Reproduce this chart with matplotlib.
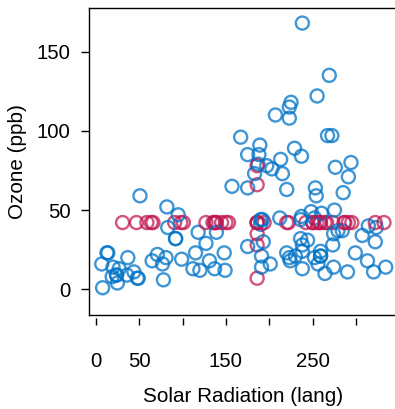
import numpy as np
import matplotlib
matplotlib.use("Agg")
import matplotlib.pyplot as plt

NA = np.nan
ozone = [41,36,12,18,NA,28,23,19,8,NA,
         7,16,11,14,18,14,34,6,30,11,
         1,11,4,32,NA,NA,NA,23,45,115,
         37,NA,NA,NA,NA,NA,NA,29,NA,71,
         39,NA,NA,23,NA,NA,21,37,20,12,
         13,NA,NA,NA,NA,NA,NA,NA,NA,NA,
         NA,135,49,32,NA,64,40,77,97,97,
         85,NA,10,27,NA,7,48,35,61,79,
         63,16,NA,NA,80,108,20,52,82,50,
         64,59,39,9,16,78,35,66,122,89,
         110,NA,NA,44,28,65,NA,22,59,23,
         31,44,21,9,NA,45,168,73,NA,76,
         118,84,85,96,78,73,91,47,32,20,
         23,21,24,44,21,28,9,13,46,18,
         13,24,16,13,23,36,7,14,30,NA,
         14,18,20]
solar = [190,118,149,313,NA,NA,299,99,19,194,
         NA,256,290,274,65,334,307,78,322,44,
         8,320,25,92,66,266,NA,13,252,223,
         279,286,287,242,186,220,264,127,273,291,
         323,259,250,148,332,322,191,284,37,120,
         137,150,59,91,250,135,127,47,98,31,
         138,269,248,236,101,175,314,276,267,272,
         175,139,264,175,291,48,260,274,285,187,
         220,7,258,295,294,223,81,82,213,275,
         253,254,83,24,77,NA,NA,NA,255,229,
         207,222,137,192,273,157,64,71,51,115,
         244,190,259,36,255,212,238,215,153,203,
         225,237,188,167,197,183,189,95,92,252,
         220,230,259,236,259,238,24,112,237,224,
         27,238,201,238,14,139,49,20,193,145,
         191,131,223]

x_ticks = [0, 50, 100, 150, 200, 250, 300]
x_ticklabels = ["0", "50", "", "150", "", "250", ""]
y_ticks = [0, 50, 100, 150]

oz = np.array(ozone, dtype=float)
sr = np.array(solar, dtype=float)
missing = np.isnan(oz) | np.isnan(sr)
oz_i = np.where(np.isnan(oz), np.nanmean(oz), oz)
sr_i = np.where(np.isnan(sr), np.nanmean(sr), sr)

blue = (0/255, 114/255, 198/255, 0.75)
red = (192/255, 20/255, 80/255, 0.72)
colors = [red if m else blue for m in missing]

plt.rcParams['font.family'] = ['Liberation Sans', 'DejaVu Sans']
fig = plt.figure(figsize=(3.95, 4.09), dpi=100)
ax = fig.add_axes([89/395, 94/409, 308/395, 307/409])

ax.scatter(sr_i, oz_i, s=88, facecolors='none', edgecolors=colors, linewidths=1.7)

ax.set_xlim(-7.7, 347)
ax.set_ylim(-16.2, 177.5)

ax.spines['right'].set_visible(False)
for s in ['left', 'top']:
    ax.spines[s].set_linewidth(1.0)
ax.spines['bottom'].set_position(('outward', 2.5))
ax.spines['bottom'].set_visible(False)
ax.plot([0, 1], [0, 0], transform=ax.transAxes, color='black', lw=1.0, clip_on=False)

ax.set_xticks(x_ticks)
ax.set_xticklabels(x_ticklabels)
ax.set_yticks(y_ticks)
ax.tick_params(axis='x', length=5.3, width=1.0, pad=19, labelsize=14.7)
ax.tick_params(axis='y', length=5.8, width=1.0, pad=7.5, labelsize=14.7)

ax.set_xlabel("Solar Radiation (lang)", fontsize=14.9, va='center')
ax.xaxis.set_label_coords((243-89)/307, (315-397)/307)
ax.set_ylabel("Ozone (ppb)", fontsize=14.9, va='center')
ax.yaxis.set_label_coords((18-89)/307, (315-162)/307)

fig.savefig("out.png", dpi=100)
